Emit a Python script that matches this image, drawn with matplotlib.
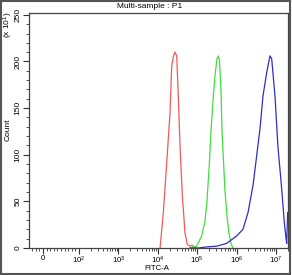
import numpy as np
import matplotlib
matplotlib.use('Agg')
import matplotlib.pyplot as plt
from matplotlib.patches import Rectangle

plt.rcParams['font.family'] = ['Liberation Sans', 'DejaVu Sans']
plt.rcParams['mathtext.default'] = 'regular'

# FITC-A intensity / count (x10)
red_x = [1.14e4, 1.38e4, 1.68e4, 2.04e4, 2.25e4, 2.5e4, 2.73e4, 3.02e4,
         3.31e4, 3.66e4, 4.19e4, 4.90e4, 5.6e4, 6.4e4, 7.38e4, 9.3e4]
red_y = [0, 38, 91, 145, 195, 206, 210, 206, 163, 110, 56, 16, 4, 2, 3, 0]

green_x = [6.56e4, 9.7e4, 1.30e5, 1.58e5, 1.77e5, 2.05e5, 2.24e5, 2.52e5,
           2.83e5, 3.18e5, 3.44e5, 3.68e5, 4.02e5, 4.26e5, 4.65e5, 5.08e5,
           5.71e5, 6.41e5, 7.21e5, 8.1e5]
green_y = [0, 2, 13, 29, 50, 93, 126, 158, 185, 203, 206, 201, 168, 126,
           93, 61, 34, 16, 5, 0]

blue_x = [6.6e4, 1.07e5, 1.58e5, 3.13e5, 5.61e5, 8.1e5, 1.01e6, 1.45e6,
          1.95e6, 2.61e6, 3.24e6, 3.93e6, 4.68e6, 5.81e6, 7.05e6, 7.78e6,
          9.44e6, 1.12e7, 1.40e7, 1.63e7, 1.79e7, 1.87e7, 1.98e7]
blue_y = [0, 0, 1, 2, 5, 10, 13, 20, 38, 67, 99, 128, 163, 188, 206, 203,
          163, 109, 63, 27, 11, 5, 38]

x_ticks = [0, 1e2, 1e3, 1e4, 1e5, 1e6, 1e7]
x_labels = ['0', '$10^{2}$', '$10^{3}$', '$10^{4}$', '$10^{5}$', '$10^{6}$', '$10^{7}$']
y_ticks = [0, 50, 100, 150, 200, 250]

W, H = 292, 275
fig = plt.figure(figsize=(W / 100, H / 100), dpi=100)
ax = fig.add_axes([29 / W, 1 - 248 / H, 259 / W, 235 / H])

ax.plot(red_x, red_y, color='#f05a5a', lw=0.9)
ax.plot(green_x, green_y, color='#3ee03e', lw=0.9)
ax.plot(blue_x, blue_y, color='#2e2ec8', lw=0.9)

ax.set_xscale('symlog', linthresh=100, linscale=0.823)
ax.set_xlim(-39, 2.02e7)
ax.set_ylim(0, 252)

ax.set_xticks(x_ticks)
ax.set_xticklabels(x_labels)
minor = [-30, -20, -10, 10, 20, 30, 40, 50, 60, 70, 80, 90]
for d in range(2, 7):
    minor += [k * 10 ** d for k in range(2, 10)]
minor += [2e7]
ax.set_xticks(minor, minor=True)

ax.set_yticks(y_ticks)
ax.set_yticklabels([str(v) for v in y_ticks], rotation=90, va='center')
ax.set_yticks(np.arange(0, 251, 10), minor=True)

ax.tick_params(which='major', direction='out', length=4, width=0.8,
               labelsize=6, color='#333333', pad=1.5)
ax.tick_params(axis='x', which='major', labelsize=5.6, pad=1)
ax.tick_params(which='minor', direction='out', length=2, width=0.6,
               color='#333333')
for s in ax.spines.values():
    s.set_color('#444444')
    s.set_linewidth(0.9)

fig.text(150 / W, 1 - 7 / H, 'Multi-sample : P1', ha='center', va='center',
         fontsize=6)
fig.text(157 / W, 1 - 269 / H, 'FITC-A', ha='center', va='center', fontsize=5.6)
fig.text(8 / W, 1 - 130 / H, 'Count', ha='center', va='center', fontsize=6,
         rotation=90)
fig.text(8 / W, 1 - 25 / H, '(x 10$^{1}$)', ha='center', va='center',
         fontsize=6, rotation=90)

fig.patches.append(Rectangle((1 / W, 1 / H), 289 / W, 273 / H,
                             transform=fig.transFigure, fill=False,
                             edgecolor='#555555', lw=1.5))

fig.savefig('out.png', dpi=100)
